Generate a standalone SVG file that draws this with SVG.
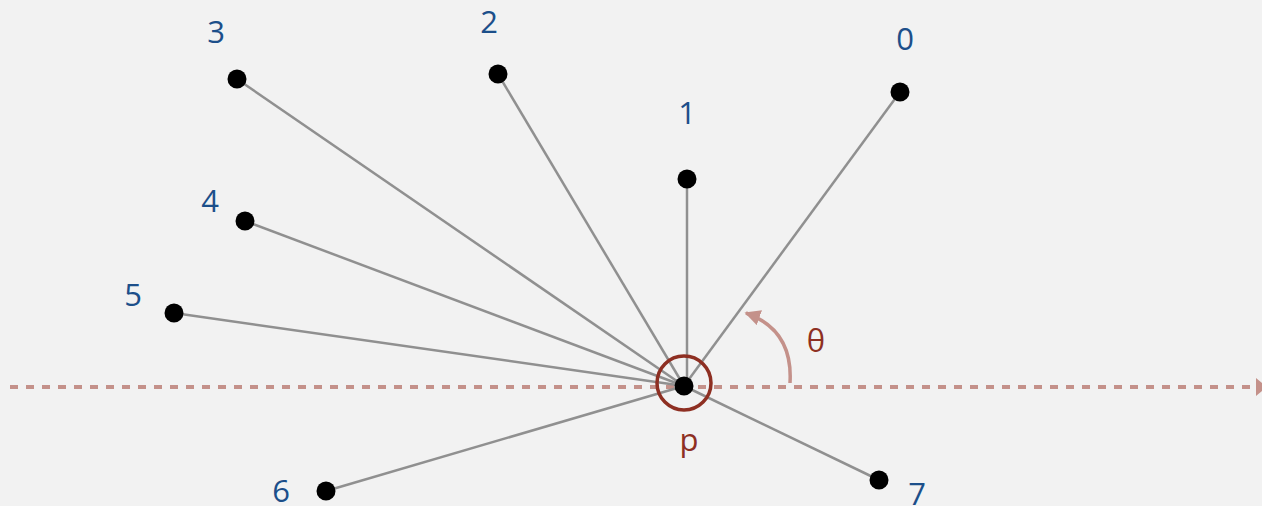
<svg xmlns="http://www.w3.org/2000/svg" width="1262" height="506" viewBox="0 0 1262 506">
<style>
.edge{stroke:#909090;stroke-width:2.5;fill:none}
.dot{fill:#000}
.lbl{font-family:"Open Sans","Noto Sans",sans-serif;font-size:31px;fill:#1c4f8a;text-anchor:middle}
.red{fill:#8e2f22}
</style>
<defs>
<marker id="ah2" viewBox="0 0 10 10" refX="9" refY="5" markerWidth="4.5" markerHeight="4.5" orient="auto" markerUnits="strokeWidth">
<path d="M0,0 L10,5 L0,10 z" fill="#c4918a"/>
</marker>
</defs>
<rect width="1262" height="506" fill="#f2f2f2"/>
<g id="axis">
<line x1="10" y1="387" x2="1250" y2="387" stroke="#c4918a" stroke-width="4" stroke-dasharray="8 8"/>
<path d="M1256,378 L1262,383 L1262,391 L1256,396 z" fill="#c4918a"/>
</g>
<g id="connectors">
<line class="edge" x1="684" y1="386" x2="900" y2="92"/>
<line class="edge" x1="687" y1="386" x2="687" y2="179"/>
<line class="edge" x1="684" y1="386" x2="498" y2="74"/>
<line class="edge" x1="684" y1="386" x2="237" y2="79"/>
<line class="edge" x1="684" y1="386" x2="245" y2="221"/>
<line class="edge" x1="684" y1="386" x2="174" y2="313"/>
<line class="edge" x1="684" y1="386" x2="326" y2="491"/>
<line class="edge" x1="684" y1="386" x2="879" y2="480"/>
</g>
<g id="angle">
<path d="M790,383 C792,350 780,325 746,313" stroke="#c4918a" stroke-width="3.5" fill="none" marker-end="url(#ah2)"/>
<text class="lbl red" x="816" y="352">θ</text>
</g>
<g id="n0"><circle class="dot" cx="900" cy="92" r="9.5"/><text class="lbl" x="905" y="50">0</text></g>
<g id="n1"><circle class="dot" cx="687" cy="179" r="9.5"/><text class="lbl" x="687" y="124">1</text></g>
<g id="n2"><circle class="dot" cx="498" cy="74" r="9.5"/><text class="lbl" x="489" y="33">2</text></g>
<g id="n3"><circle class="dot" cx="237" cy="79" r="9.5"/><text class="lbl" x="216" y="43">3</text></g>
<g id="n4"><circle class="dot" cx="245" cy="221" r="9.5"/><text class="lbl" x="210" y="212">4</text></g>
<g id="n5"><circle class="dot" cx="174" cy="313" r="9.5"/><text class="lbl" x="133" y="306">5</text></g>
<g id="n6"><circle class="dot" cx="326" cy="491" r="9.5"/><text class="lbl" x="281" y="502">6</text></g>
<g id="n7"><circle class="dot" cx="879" cy="480" r="9.5"/><text class="lbl" x="917" y="505">7</text></g>
<g id="p">
<circle class="dot" cx="684" cy="386" r="9.5"/>
<circle cx="684" cy="383" r="27" fill="none" stroke="#8e2f22" stroke-width="3.5"/>
<text class="lbl red" x="689" y="451">p</text>
</g>
</svg>
